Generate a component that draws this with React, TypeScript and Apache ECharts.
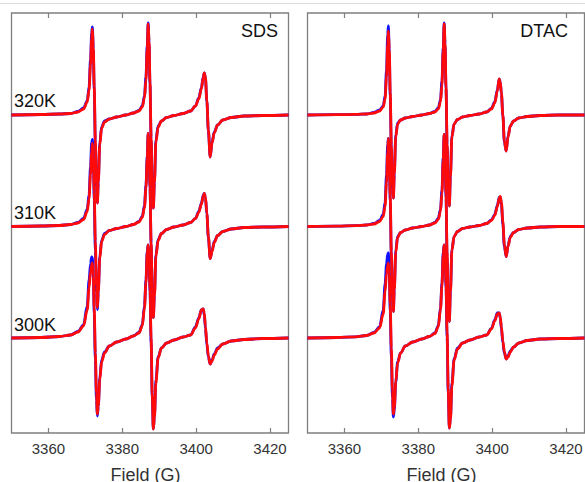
import React, { useEffect, useRef } from "react";
import * as echarts from "echarts";

// Magnetic field grid (G) shared by all traces
const FIELD = [
  3350, 3358, 3363, 3366, 3368, 3369.5, 3370.5, 3371.0, 3371.4, 3371.7,
  3371.9, 3372.15, 3372.4, 3372.7, 3373.0, 3373.25, 3373.5, 3373.9, 3374.4, 3375.2,
  3376.5, 3378.5, 3381, 3383, 3384.5, 3385.4, 3386.0, 3386.4, 3386.75, 3387.0,
  3387.25, 3387.5, 3387.8, 3388.1, 3388.4, 3388.7, 3389.1, 3389.7, 3390.6, 3392,
  3394, 3396.5, 3398.5, 3399.8, 3400.7, 3401.4, 3401.9, 3402.2, 3402.5, 3402.9,
  3403.3, 3403.8, 3404.3, 3404.9, 3405.8, 3407.2, 3409.5, 3413, 3418, 3425,
];

const TEMPS = ["320K", "310K", "300K"];
const OFFSETS = [318, 206.5, 95];
const TICKS = [3360, 3380, 3400, 3420];
const PANELS = ["SDS", "DTAC"];

// SDS – experimental (blue) and simulated (red)
const SDS_320_BLUE = [0, 0.5, 1, 1.5, 3.5, 7, 14, 28, 56, 82, 88, 66, 24, -28, -72, -88, -66, -28, -12, -6, -4, -2, 0, 2, 4.5, 9, 19, 38, 70, 92, 72, 30, -24, -73, -93, -66, -25, -11, -6, -2.5, -0.5, 1.5, 4, 9, 17, 27, 38, 42, 37, 13, -16, -42, -27, -17, -10, -5, -2.5, -1, -0.5, 0];
const SDS_320_RED = [0, 0.5, 1, 1.5, 3, 6, 13, 25, 50, 76, 86, 68, 28, -25, -70, -88, -68, -30, -13, -7, -4, -2, 0, 2, 4, 8, 17, 35, 66, 91, 74, 32, -22, -72, -93, -68, -27, -12, -6, -2.5, -0.5, 1.5, 4, 9, 16, 26, 37, 42, 38, 14, -15, -42, -28, -18, -10, -5, -2.5, -1, -0.5, 0];
const SDS_310_BLUE = [0, 0.5, 1, 2, 4, 8, 17, 32, 60, 84, 87, 66, 26, -24, -66, -83, -64, -30, -14, -7, -4, -2, 0, 2, 5, 10, 21, 41, 71, 93, 78, 38, -17, -66, -91, -68, -28, -13, -7, -3, -0.5, 1.5, 4, 8, 15, 23, 31, 33, 29, 12, -11, -32, -24, -15, -9, -5, -2.5, -1, -0.5, 0];
const SDS_310_RED = [0, 0.5, 1, 2, 3.5, 7, 15, 28, 52, 74, 83, 70, 35, -15, -60, -81, -66, -32, -15, -8, -4, -2, 0, 2, 4.5, 9, 19, 38, 68, 93, 80, 40, -15, -65, -91, -70, -30, -14, -7, -3, -0.5, 1.5, 4, 8, 14, 22, 30, 33, 30, 13, -10, -32, -25, -16, -9, -5, -2.5, -1, -0.5, 0];
const SDS_300_BLUE = [0, 0.5, 1.5, 3, 6.5, 13, 32, 58, 74, 81, 80, 60, 24, -22, -62, -78, -68, -40, -22, -14, -8, -4, -1, 2, 5.5, 13, 32, 58, 87, 93, 80, 46, -5, -58, -91, -78, -42, -19, -10, -5, -2, 1, 3, 11, 20, 28, 29, 23, 10, -7, -19, -26, -22, -16, -10, -6, -3, -1.5, -0.5, 0];
const SDS_300_RED = [0, 0.5, 1.5, 3, 6, 12, 28, 50, 66, 73, 75, 62, 30, -15, -55, -76, -68, -42, -24, -15, -8, -4, -1, 2, 5, 12, 30, 55, 85, 93, 82, 50, 0, -55, -91, -80, -45, -20, -10, -5, -2, 1, 3, 10, 19, 28, 29, 25, 12, -5, -18, -26, -23, -17, -11, -6, -3, -1.5, -0.5, 0];

// DTAC – experimental (blue) and simulated (red)
const DTAC_320_BLUE = [0, 0.3, 0.6, 1, 2.5, 5, 9, 19, 45, 80, 89, 62, 18, -33, -74, -83, -58, -20, -8, -5, -3, -1.5, 0, 1.5, 3.5, 7, 15, 34, 68, 92, 70, 26, -30, -76, -91, -60, -21, -9, -4.5, -2, -0.5, 1, 3, 6.5, 13, 25, 36, 33, 21, -1, -27, -36, -21, -11, -6, -3, -1.5, -0.5, 0, 0];
const DTAC_320_RED = [0, 0.3, 0.6, 1, 2, 4, 8, 16, 38, 70, 84, 66, 22, -30, -72, -83, -60, -22, -9, -5, -3, -1.5, 0, 1.5, 3, 6, 13, 30, 64, 91, 72, 28, -28, -75, -91, -62, -22, -9, -4.5, -2, -0.5, 1, 3, 6, 12, 24, 36, 33, 22, 0, -26, -36, -22, -11, -6, -3, -1.5, -0.5, 0, 0];
const DTAC_310_BLUE = [0, 0.3, 0.8, 1.5, 3, 6, 12, 24, 52, 82, 88, 66, 24, -30, -72, -85, -62, -24, -10, -6, -3.5, -1.5, 0, 1.5, 4, 8, 17, 36, 70, 92, 72, 28, -30, -80, -95, -64, -23, -10, -5, -2, -0.5, 1, 3, 6.5, 12, 21, 29, 29, 22, 2, -20, -30, -19, -10, -6, -3, -1.5, -0.5, 0, 0];
const DTAC_310_RED = [0, 0.3, 0.8, 1.5, 2.5, 5, 10, 20, 44, 74, 88, 72, 30, -25, -70, -85, -64, -26, -11, -6, -3.5, -1.5, 0, 1.5, 3.5, 7, 15, 33, 66, 92, 76, 32, -26, -78, -95, -66, -24, -10, -5, -2, -0.5, 1, 3, 6, 11, 20, 28, 30, 24, 5, -18, -30, -20, -11, -6, -3, -1.5, -0.5, 0, 0];
const DTAC_300_BLUE = [0, 0.5, 1.2, 2.5, 5.5, 11, 28, 54, 74, 84, 85, 66, 26, -20, -60, -79, -72, -44, -24, -15, -8, -4, -1, 1.5, 5, 12, 30, 55, 86, 93, 82, 50, 0, -54, -90, -80, -45, -21, -10, -5, -2, 1, 3, 9.5, 18, 25, 25, 20, 9, -5, -15, -21, -18, -13, -9, -5, -2.5, -1, -0.5, 0];
const DTAC_300_RED = [0, 0.5, 1.2, 2.5, 5, 10, 24, 46, 64, 72, 75, 64, 34, -10, -52, -76, -70, -44, -25, -15, -8, -4, -1, 1.5, 4.5, 11, 28, 52, 83, 93, 84, 54, 5, -50, -90, -82, -48, -22, -11, -5, -2, 1, 3, 9, 17, 24, 25, 21, 11, -3, -14, -21, -19, -14, -9, -5, -2.5, -1, -0.5, 0];

const BLUE_TRACES = [
  [SDS_320_BLUE, SDS_310_BLUE, SDS_300_BLUE],
  [DTAC_320_BLUE, DTAC_310_BLUE, DTAC_300_BLUE],
];
const RED_TRACES = [
  [SDS_320_RED, SDS_310_RED, SDS_300_RED],
  [DTAC_320_RED, DTAC_310_RED, DTAC_300_RED],
];

const FONT = "'Liberation Sans', Arial, Helvetica, sans-serif";
const FRAME = "#7f7f7f";
const GRID_LEFTS = [11.5, 307.5];

function buildOption() {
  const grids = GRID_LEFTS.map((left) => ({
    left,
    top: 13,
    width: 277,
    height: 420,
    show: true,
    borderColor: FRAME,
    borderWidth: 1.3,
    backgroundColor: "#fff",
    containLabel: false,
    outerBoundsMode: "none",
  }));

  const xAxes: any[] = [];
  const yAxes: any[] = [];
  GRID_LEFTS.forEach((_, g) => {
    xAxes.push({
      type: "value",
      gridIndex: g,
      position: "bottom",
      min: 3350,
      max: 3425,
      axisLine: { show: false },
      axisTick: {
        show: true,
        inside: true,
        length: 5,
        customValues: TICKS,
        lineStyle: { color: FRAME, width: 1.2 },
      },
      axisLabel: {
        customValues: TICKS,
        formatter: (v: number) => String(v),
        color: "#333",
        fontSize: 15,
        margin: 8,
        fontFamily: FONT,
      },
      splitLine: { show: false },
      name: "Field (G)",
      nameLocation: "middle",
      nameGap: 33,
      nameTextStyle: { fontSize: 18, color: "#333", fontFamily: FONT, padding: [0, 9, 0, 0] },
    });
    xAxes.push({
      type: "value",
      gridIndex: g,
      position: "top",
      min: 3350,
      max: 3425,
      axisLine: { show: false },
      axisTick: {
        show: true,
        inside: true,
        length: 5,
        customValues: TICKS,
        lineStyle: { color: FRAME, width: 1.2 },
      },
      axisLabel: { show: false },
      splitLine: { show: false },
    });
    yAxes.push({
      type: "value",
      gridIndex: g,
      min: 0,
      max: 420,
      show: false,
    });
  });

  const series: any[] = [];
  const addTraces = (traces: number[][][], color: string, z: number) => {
    traces.forEach((panel, p) => {
      panel.forEach((vals, t) => {
        series.push({
          type: "line",
          name: `${PANELS[p]} ${TEMPS[t]}`,
          xAxisIndex: p * 2,
          yAxisIndex: p,
          data: FIELD.map((f, i) => [f, OFFSETS[t] + vals[i]]),
          showSymbol: false,
          symbol: "none",
          smooth: 0.35,
          smoothMonotone: "x",
          lineStyle: { color, width: 2.8 },
          z,
          silent: true,
        });
      });
    });
  };
  addTraces(BLUE_TRACES, "#1010ff", 2);
  addTraces(RED_TRACES, "#ff0a0a", 3);

  const graphics: any[] = [
    {
      type: "line",
      shape: { x1: 0, y1: 3.5, x2: 585, y2: 3.5 },
      style: { stroke: "#dcdcdc", lineWidth: 1 },
    },
    {
      type: "text",
      x: 278,
      y: 31,
      style: { text: PANELS[0], fill: "#111", font: `18px ${FONT}`, align: "right", verticalAlign: "middle" },
      z: 10,
    },
    {
      type: "text",
      x: 568,
      y: 31,
      style: { text: PANELS[1], fill: "#111", font: `18px ${FONT}`, align: "right", verticalAlign: "middle" },
      z: 10,
    },
  ];
  const labelY = [101, 213, 325];
  TEMPS.forEach((t, i) => {
    graphics.push({
      type: "text",
      x: 14,
      y: labelY[i],
      style: { text: t, fill: "#111", font: `18px ${FONT}`, align: "left", verticalAlign: "middle" },
      z: 10,
    });
  });

  return {
    animation: false,
    backgroundColor: "#fff",
    grid: grids,
    xAxis: xAxes,
    yAxis: yAxes,
    series,
    graphic: graphics,
  };
}

export default function App() {
  const ref = useRef<HTMLDivElement>(null);
  useEffect(() => {
    if (!ref.current) return;
    const chart = echarts.init(ref.current, undefined, { renderer: "svg" });
    chart.setOption(buildOption() as any);
    return () => chart.dispose();
  }, []);
  return (
    <div
      ref={ref}
      style={{ position: "fixed", left: 0, top: 0, width: 585, height: 482, background: "#fff" }}
    />
  );
}
